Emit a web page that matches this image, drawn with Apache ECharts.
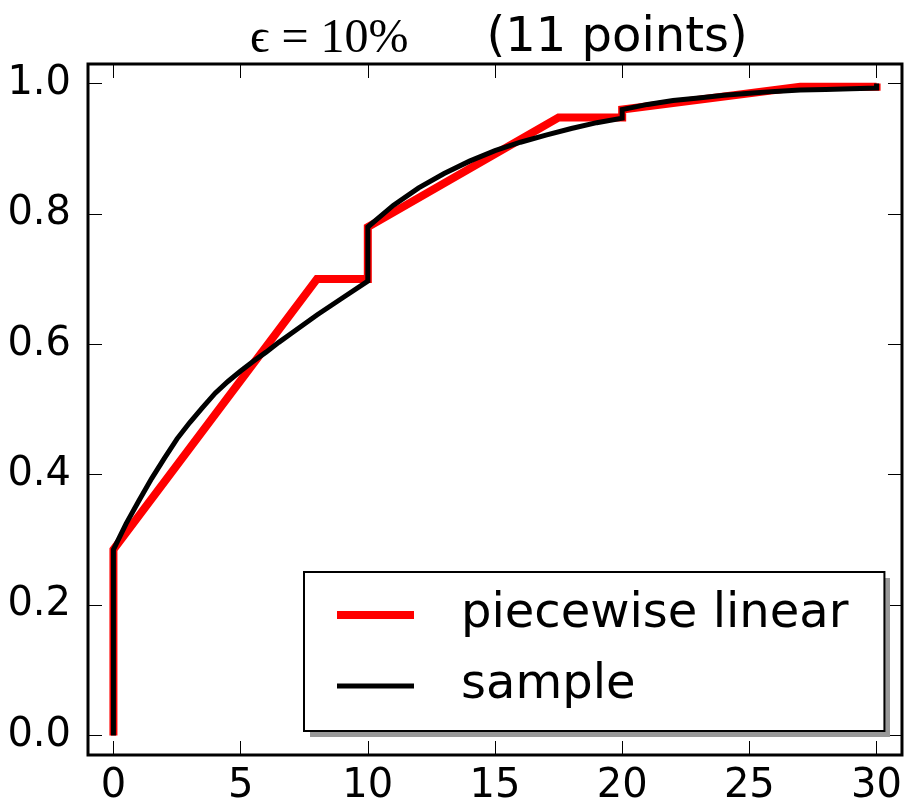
<!DOCTYPE html>
<html>
<head>
<meta charset="utf-8">
<script src="https://cdn.jsdelivr.net/npm/echarts@6/dist/echarts.min.js"></script>
<style>
  html, body { margin: 0; padding: 0; background: #fff; }
  #chart { width: 905px; height: 807px; }
</style>
</head>
<body>
<div id="chart"></div>
<script>
// piecewise linear approximation (11 points)
var pieceX = [0, 0, 8, 10, 10, 17.5, 20, 20, 27, 30, 30];
var pieceY = [0, 0.285, 0.70, 0.70, 0.78, 0.948, 0.948, 0.96, 0.995, 0.995, 1.0];

// sample curve
var sampleX = [0, 0, 0.5, 1, 1.5, 2, 2.5, 3, 3.5, 4, 4.5, 5, 5.5, 6, 6.5, 7, 8, 9, 10, 10, 11, 12, 13, 14, 15, 16, 17, 18, 19, 20, 20, 21, 22, 23, 24, 25, 26, 27, 28, 29, 30, 30];
var sampleY = [0, 0.285, 0.325, 0.36, 0.394, 0.425, 0.455, 0.48, 0.503, 0.525, 0.543, 0.559, 0.574, 0.588, 0.603, 0.617, 0.645, 0.671, 0.697, 0.78, 0.813, 0.840, 0.862, 0.881, 0.897, 0.910, 0.921, 0.931, 0.940, 0.947, 0.96, 0.968, 0.974, 0.978, 0.982, 0.985, 0.988, 0.990, 0.991, 0.992, 0.993, 1.0];

var xTicks = [0, 5, 10, 15, 20, 25, 30];
var yTicks = [0, 0.2, 0.4, 0.6, 0.8, 1.0];

function zip(xs, ys) {
  return xs.map(function (x, i) { return [x, ys[i]]; });
}

var font = "DejaVu Sans";

var chart = echarts.init(document.getElementById("chart"), null, { renderer: "canvas" });

function tickAxis(extra) {
  var base = {
    type: "value",
    splitLine: { show: false },
    axisLine: { show: false, onZero: false },
  };
  return Object.assign(base, extra);
}

function ticks(values) {
  return {
    inside: true,
    length: 14,
    customValues: values,
    lineStyle: { color: "#000", width: 1 },
  };
}

var option = {
  animation: false,
  backgroundColor: "#fff",
  title: {
    left: 245,
    top: 10,
    text: "{m|ϵ = 10%}{s|(11 points)}",
    textStyle: {
      fontWeight: "normal",
      rich: {
        m: { fontFamily: "Liberation Serif", fontSize: 48, fontWeight: "normal", color: "#000" },
        s: { fontFamily: font, fontSize: 48, fontWeight: "normal", color: "#000", padding: [0, 0, 0, 78] },
      },
    },
  },
  grid: {
    left: 88,
    top: 64,
    width: 822,
    height: 692,
    show: true,
    borderColor: "#000",
    borderWidth: 3,
    backgroundColor: "transparent",
  },
  xAxis: [
    tickAxis({
      min: -1,
      max: 31,
      position: "bottom",
      axisTick: ticks(xTicks),
      axisLabel: {
        customValues: xTicks,
        margin: 12,
        fontFamily: font,
        fontSize: 40,
        color: "#000",
      },
    }),
    tickAxis({
      min: -1,
      max: 31,
      position: "top",
      axisTick: ticks(xTicks),
      axisLabel: { show: false },
    }),
  ],
  yAxis: [
    tickAxis({
      min: -0.03,
      max: 1.03,
      position: "left",
      axisTick: ticks(yTicks),
      axisLabel: {
        customValues: yTicks,
        margin: 17,
        fontFamily: font,
        fontSize: 40,
        color: "#000",
        formatter: function (v) { return v.toFixed(1); },
      },
    }),
    tickAxis({
      min: -0.03,
      max: 1.03,
      position: "right",
      axisTick: ticks(yTicks),
      axisLabel: { show: false },
    }),
  ],
  // legend drop shadow
  graphic: [
    {
      type: "rect",
      shape: { x: 310, y: 578, width: 580, height: 159 },
      style: { fill: "#999" },
      z: 90,
      silent: true,
    },
  ],
  legend: {
    orient: "vertical",
    left: 304,
    top: 572,
    padding: [19, 36, 21, 29],
    itemGap: 23,
    itemWidth: 77,
    itemHeight: 14,
    selectedMode: false,
    backgroundColor: "#fff",
    borderColor: "#000",
    borderWidth: 2,
    borderRadius: 0,
    z: 100,
    textStyle: {
      fontFamily: font,
      fontSize: 48,
      color: "#000",
      padding: [0, 0, 0, 42],
    },
    data: [
      {
        name: "piecewise linear",
        lineStyle: { width: 8 },
        itemStyle: { opacity: 0, borderWidth: 0 },
      },
      {
        name: "sample",
        lineStyle: { width: 5 },
        itemStyle: { opacity: 0, borderWidth: 0 },
      },
    ],
  },
  series: [
    {
      name: "piecewise linear",
      type: "line",
      symbol: "none",
      color: "#ff0000",
      lineStyle: { color: "#ff0000", width: 8, join: "miter" },
      data: zip(pieceX, pieceY),
      z: 2,
    },
    {
      name: "sample",
      type: "line",
      symbol: "none",
      color: "#000",
      lineStyle: { color: "#000", width: 5, join: "miter" },
      data: zip(sampleX, sampleY),
      z: 3,
    },
  ],
};

chart.setOption(option);
</script>
</body>
</html>
